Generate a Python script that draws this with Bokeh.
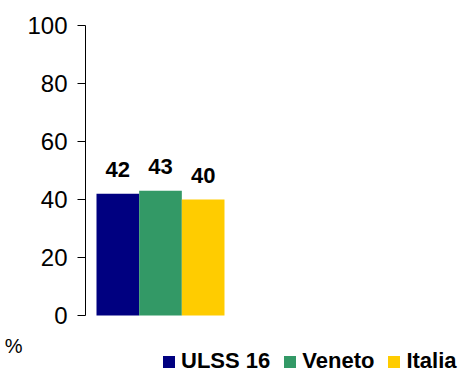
from bokeh.plotting import figure
from bokeh.models import Range1d, FixedTicker, Legend, LegendItem, LinearAxis, ColumnDataSource
from bokeh.core.properties import value
from bokeh.embed import file_html
from bokeh.resources import INLINE

series = ["ULSS 16", "Veneto", "Italia"]
values = [42, 43, 40]
colors = ["#000080", "#339966", "#FFCC00"]
y_ticks = [0, 20, 40, 60, 80, 100]
unit_label = "%"

FONT = "Liberation Sans"

pos = list(range(1, len(series) + 1))
src = ColumnDataSource(dict(x=pos, top=values, lab=[str(v) for v in values]))

frame_w = 460 - 85
frame_h = 372 - 25
px_per_unit_y = 290 / 100.0
y_start = 100 - frame_h / px_per_unit_y
px_per_bar = 128 / 3.0
x_start = 1 - (117.33 - 85) / px_per_bar
x_end = x_start + frame_w / px_per_bar

p = figure(width=460, height=372, output_backend="svg", toolbar_location=None,
           x_range=Range1d(x_start, x_end), y_range=Range1d(y_start, 100),
           x_axis_location=None, min_border_left=85, min_border_right=0,
           min_border_top=25, min_border_bottom=0)
p.outline_line_color = None
p.grid.visible = False
p.background_fill_color = "white"
p.border_fill_color = "white"

yax = p.yaxis[0]
yax.ticker = FixedTicker(ticks=y_ticks)
yax.bounds = (0, 100)
yax.axis_line_color = "black"
yax.major_tick_line_color = "black"
yax.major_tick_out = 8
yax.major_tick_in = 0
yax.minor_tick_line_color = None
yax.major_label_standoff = 10
yax.major_label_text_font = FONT
yax.major_label_text_font_size = "24px"
yax.major_label_text_color = "black"

# outer axis carrying only the "%" unit label; a three-line block centred on the
# frame bottom puts its first line at the unit label's row
ax2 = LinearAxis(ticker=FixedTicker(ticks=[]),
                 axis_line_color=None, major_tick_line_color=None, minor_tick_line_color=None,
                 axis_label=unit_label + "\n \n ", axis_label_orientation="horizontal",
                 axis_label_align="start",
                 axis_label_standoff=2, axis_label_text_font=FONT,
                 axis_label_text_font_size="20px", axis_label_text_font_style="normal",
                 axis_label_text_line_height=1.2,
                 axis_label_text_color="black")
p.add_layout(ax2, "left")

renderers = []
for i in range(len(series)):
    view_src = ColumnDataSource(dict(x=[pos[i]], top=[values[i]]))
    r = p.vbar(x="x", top="top", bottom=0, width=1, source=view_src,
               fill_color=colors[i], line_color=None)
    renderers.append(r)

p.text(x="x", y="top", text="lab", source=src, text_align="center",
       text_baseline="alphabetic", y_offset=-24, text_font=value(FONT),
       text_font_size="22px", text_font_style="bold", text_color="black")

legend = Legend(items=[LegendItem(label=series[i], renderers=[renderers[i]]) for i in range(len(series))],
                orientation="horizontal", location=(76, -2))
legend.padding = 0
legend.margin = 0
legend.spacing = 12
legend.label_standoff = 5
legend.glyph_width = 15
legend.glyph_height = 15
legend.border_line_color = None
legend.background_fill_alpha = 0
legend.label_text_font = FONT
legend.label_text_font_size = "22px"
legend.label_text_font_style = "bold"
legend.label_text_color = "black"
p.add_layout(legend, "center")

open("out.html", "w").write(file_html(p, INLINE))
